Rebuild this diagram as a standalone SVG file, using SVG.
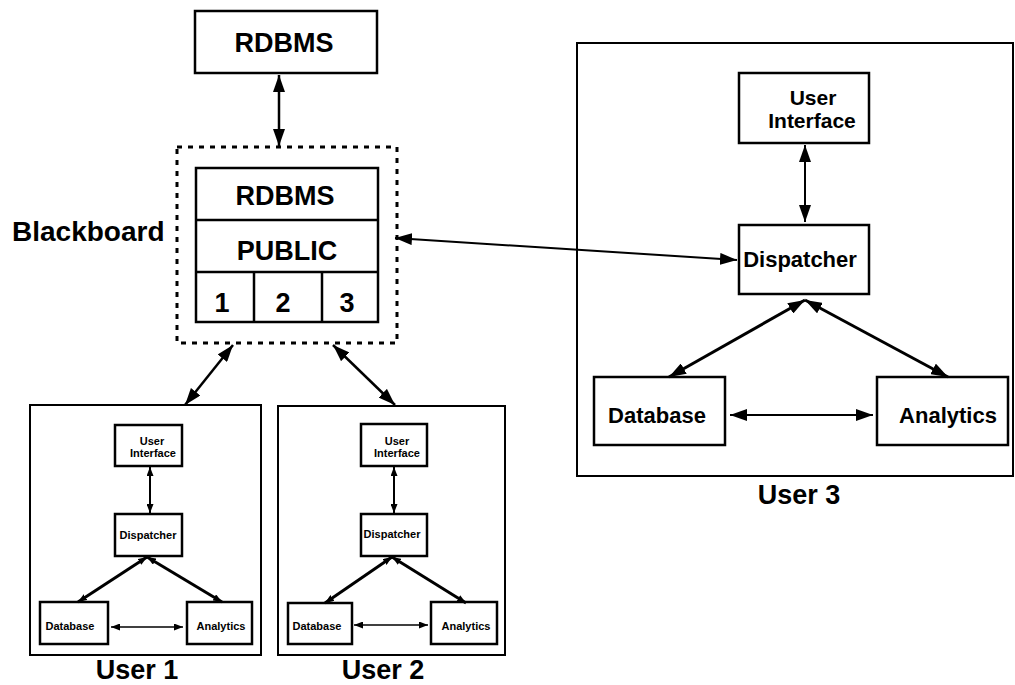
<svg xmlns="http://www.w3.org/2000/svg" width="1015" height="685" viewBox="0 0 1015 685">
<defs>
<marker id="ab" markerUnits="userSpaceOnUse" markerWidth="18" markerHeight="12" refX="17" refY="6" orient="auto-start-reverse"><path d="M0,0 L17,6 L0,12 z" fill="#000"/></marker>
<marker id="as" markerUnits="userSpaceOnUse" markerWidth="9" markerHeight="7" refX="9" refY="3.5" orient="auto-start-reverse"><path d="M0,0 L9,3.5 L0,7 z" fill="#000"/></marker>
</defs>
<style>
.box{fill:#fff;stroke:#000;stroke-width:2.5}
.sbox{fill:#fff;stroke:#000;stroke-width:2.5}
.frame{fill:none;stroke:#000;stroke-width:2}
.dash{fill:none;stroke:#000;stroke-width:3;stroke-dasharray:5 6}
.t{font-family:"Liberation Sans",Arial,sans-serif;font-weight:bold;fill:#000;text-anchor:middle}
.big{font-size:27px}
.mid{font-size:22px}
.sm{font-size:11px}
.cb{fill:none;stroke:#000;stroke-width:2.5;marker-start:url(#ab);marker-end:url(#ab)}
.cs{fill:none;stroke:#000;stroke-width:2;marker-start:url(#as);marker-end:url(#as)}
</style>
<rect width="1015" height="685" fill="#fff"/>

<g id="rdbms">
<rect class="box" x="195" y="11" width="182" height="62"/>
<text class="t big" x="284" y="52">RDBMS</text>
</g>

<g id="blackboard">
<rect class="dash" x="177" y="147" width="220" height="196"/>
<rect class="box" x="196" y="168" width="182" height="154"/>
<line x1="196" y1="220" x2="378" y2="220" stroke="#000" stroke-width="2.5"/>
<line x1="196" y1="272" x2="378" y2="272" stroke="#000" stroke-width="2.5"/>
<line x1="254" y1="272" x2="254" y2="322" stroke="#000" stroke-width="2.5"/>
<line x1="322" y1="272" x2="322" y2="322" stroke="#000" stroke-width="2.5"/>
<text class="t big" x="285" y="205">RDBMS</text>
<text class="t big" x="287" y="260">PUBLIC</text>
<text class="t big" x="222" y="312">1</text>
<text class="t big" x="283" y="312">2</text>
<text class="t big" x="347" y="312">3</text>
<text class="t" x="12" y="241" style="font-size:28px;text-anchor:start">Blackboard</text>
</g>

<g id="user1">
<rect class="frame" x="30" y="405" width="231" height="250"/>
<text class="t big" x="137" y="679">User 1</text>
<g id="u1-ui"><rect class="sbox" x="115" y="425" width="67" height="41"/><text class="t sm" x="152" y="445">User</text><text class="t sm" x="153" y="457">Interface</text></g>
<g id="u1-disp"><rect class="sbox" x="115" y="514" width="67" height="42"/><text class="t sm" x="148" y="539">Dispatcher</text></g>
<g id="u1-db"><rect class="sbox" x="40" y="602" width="68" height="42"/><text class="t sm" x="70" y="630">Database</text></g>
<g id="u1-an"><rect class="sbox" x="187" y="602" width="65" height="42"/><text class="t sm" x="221" y="630">Analytics</text></g>
</g>

<g id="user2">
<rect class="frame" x="278" y="406" width="227" height="249"/>
<text class="t big" x="383" y="679">User 2</text>
<g id="u2-ui"><rect class="sbox" x="361" y="424" width="66" height="42"/><text class="t sm" x="397" y="445">User</text><text class="t sm" x="397" y="457">Interface</text></g>
<g id="u2-disp"><rect class="sbox" x="361" y="514" width="66" height="42"/><text class="t sm" x="392" y="538">Dispatcher</text></g>
<g id="u2-db"><rect class="sbox" x="288" y="603" width="64" height="41"/><text class="t sm" x="317" y="630">Database</text></g>
<g id="u2-an"><rect class="sbox" x="431" y="602" width="66" height="42"/><text class="t sm" x="466" y="630">Analytics</text></g>
</g>

<g id="user3">
<rect class="frame" x="577" y="43" width="436" height="433"/>
<text class="t big" x="799" y="504">User 3</text>
<g id="u3-ui"><rect class="box" x="739" y="73" width="130" height="70"/><text class="t" x="813" y="105" style="font-size:21px">User</text><text class="t" x="812" y="128" style="font-size:21px">Interface</text></g>
<g id="u3-disp"><rect class="box" x="739" y="225" width="130" height="69"/><text class="t mid" x="800" y="267">Dispatcher</text></g>
<g id="u3-db"><rect class="box" x="594" y="377" width="131" height="68"/><text class="t mid" x="657" y="423">Database</text></g>
<g id="u3-an"><rect class="box" x="877" y="377" width="131" height="68"/><text class="t mid" x="948" y="423">Analytics</text></g>
</g>

<g id="connectors">
<line class="cb" x1="279" y1="75" x2="279" y2="146"/>
<line class="cb" x1="233" y1="345" x2="185" y2="405"/>
<line class="cb" x1="333" y1="345" x2="395" y2="405"/>
<line class="cb" x1="395" y1="238" x2="737" y2="260" style="stroke-width:2"/>
<line class="cb" x1="805" y1="145" x2="805" y2="222" style="stroke-width:2"/>
<line class="cb" x1="805" y1="300" x2="669" y2="377" style="stroke-width:3"/>
<line class="cb" x1="805" y1="300" x2="948" y2="377" style="stroke-width:3"/>
<line class="cb" x1="730" y1="415" x2="873" y2="415" style="stroke-width:2"/>
<line class="cs" x1="150" y1="467" x2="150" y2="513"/>
<line class="cs" x1="147" y1="557" x2="78" y2="602" style="stroke-width:3"/>
<line class="cs" x1="147" y1="557" x2="222" y2="602" style="stroke-width:3"/>
<line class="cs" x1="111" y1="627" x2="183" y2="627" style="stroke-width:1.5"/>
<line class="cs" x1="394" y1="467" x2="394" y2="513"/>
<line class="cs" x1="392" y1="557" x2="325" y2="603" style="stroke-width:3"/>
<line class="cs" x1="392" y1="557" x2="466" y2="603" style="stroke-width:3"/>
<line class="cs" x1="354" y1="625" x2="428" y2="625" style="stroke-width:1.5"/>
</g>
</svg>
